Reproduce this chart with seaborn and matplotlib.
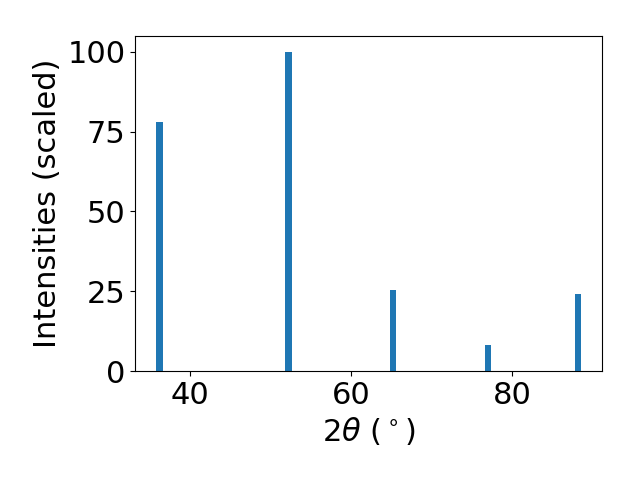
import matplotlib
matplotlib.use("Agg")
import matplotlib.pyplot as plt
import seaborn as sns
import pandas as pd

two_theta = [36.28, 52.27, 65.2, 76.99, 88.14]
intensity = [78.1, 100.0, 25.4, 8.2, 24.2]

df = pd.DataFrame({"two_theta": two_theta, "intensity": intensity})

plt.rcParams["font.size"] = 22
fig, ax = plt.subplots(figsize=(6.4, 4.8), dpi=100)
min_gap = min(b - a for a, b in zip(sorted(two_theta)[:-1], sorted(two_theta)[1:]))
sns.barplot(data=df, x="two_theta", y="intensity", native_scale=True,
            width=0.8 / min_gap, color="#1f77b4", saturation=1,
            linewidth=0, ax=ax)
ax.set_xlabel(r"$2\theta$ ($^\circ$)")
ax.set_ylabel("Intensities (scaled)")
ax.set_xticks([40, 60, 80])
ax.set_yticks([0, 25, 50, 75, 100])
ax.margins(x=0.05)
fig.subplots_adjust(left=0.211, right=0.941, top=0.925, bottom=0.227)
fig.savefig("out.png", dpi=100)
